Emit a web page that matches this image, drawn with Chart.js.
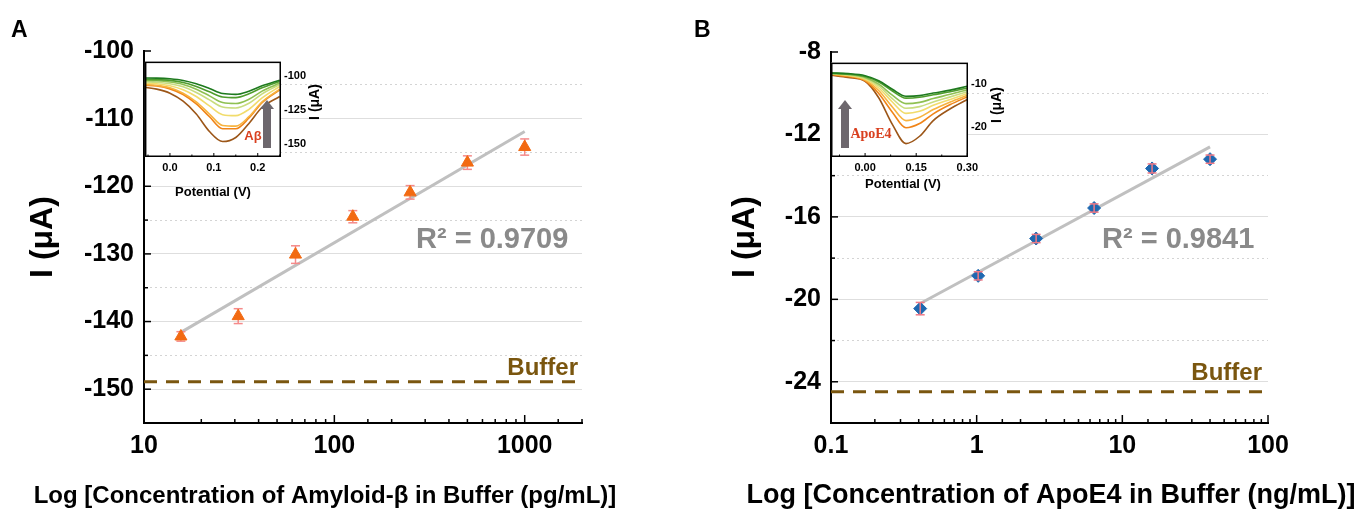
<!DOCTYPE html>
<html>
<head>
<meta charset="utf-8">
<script src="https://cdn.jsdelivr.net/npm/chart.js@4.4.0/dist/chart.umd.min.js"></script>
<style>
  html, body { margin: 0; padding: 0; background: #fff; }
  #wrap { position: relative; width: 1360px; height: 509px; overflow: hidden; }
  canvas { position: absolute; }
</style>
</head>
<body>
<div id="wrap">
  <canvas id="chartA" width="680" height="509" style="left:0;top:0"></canvas>
  <canvas id="chartB" width="680" height="509" style="left:680px;top:0"></canvas>
  <canvas id="insetA" width="185" height="150" style="left:144px;top:52px"></canvas>
  <canvas id="insetB" width="185" height="150" style="left:831px;top:53px"></canvas>
</div>
<script>
/*------------------------ DATA ---------------------------------*/

// panel A : amyloid-beta calibration
const concA = [15.625, 31.25, 62.5, 125, 250, 500, 1000]
const currentA = [-142.2, -139.2, -130.1, -124.5, -120.9, -116.5, -114.2]
const errA = [0.7, 1.1, 1.3, 0.9, 1.0, 1.0, 1.2]
const fitA = [-141.6, -111.9]
const bufferA = -148.9
const yTickLabelsA = [-150, -140, -130, -120, -110, -100]

// panel B : ApoE4 calibration
const concB = [0.4096, 1.024, 2.56, 6.4, 16, 40]
const currentB = [-20.45, -18.86, -17.05, -15.57, -13.65, -13.2]
const errB = [0.3, 0.2, 0.2, 0.2, 0.22, 0.2]
const fitB = [-20.2, -12.6]
const bufferB = -24.48
const yTickLabelsB = [-24, -20, -16, -12, -8]

// inset A : DPV curves, potential (V) vs current (uA)
const potentialA = [-0.06, -0.03, 0.0, 0.03, 0.06, 0.09, 0.12, 0.15, 0.18, 0.21, 0.25]
const dpvA = [
    [-101.2, -101.3, -101.8, -103.0, -105.5, -109.0, -112.8, -113.4, -111.0, -107.0, -102.8],
    [-102.2, -102.4, -103.0, -104.5, -107.5, -111.5, -115.3, -115.8, -113.0, -108.5, -103.8],
    [-103.0, -103.3, -104.2, -106.0, -109.5, -114.5, -119.5, -120.2, -117.0, -111.0, -105.0],
    [-104.0, -104.4, -105.5, -107.8, -112.0, -117.5, -122.8, -123.5, -120.0, -113.0, -106.0],
    [-105.0, -105.5, -107.0, -110.0, -115.0, -122.0, -128.5, -129.2, -124.5, -116.0, -107.5],
    [-106.0, -106.7, -108.5, -112.5, -119.0, -128.0, -136.5, -137.0, -130.0, -119.0, -109.5],
    [-106.5, -107.2, -109.3, -113.5, -120.5, -130.0, -139.0, -139.0, -131.0, -119.5, -110.0],
    [-108.0, -109.5, -112.5, -118.5, -128.0, -141.0, -148.5, -145.5, -135.0, -123.0, -115.0]
]
const insetXLabelsA = [0.0, 0.1, 0.2]
const insetYLabelsA = [-150, -125, -100]

// inset B
const potentialB = [-0.1, -0.05, 0.0, 0.04, 0.08, 0.12, 0.16, 0.2, 0.25, 0.3]
const dpvB = [
    [-7.35, -7.5, -8.0, -9.2, -11.2, -12.85, -12.7, -12.1, -11.4, -10.5],
    [-7.4, -7.6, -8.2, -9.5, -11.6, -13.3, -13.1, -12.5, -11.8, -10.9],
    [-7.45, -7.7, -8.4, -10.0, -12.6, -14.6, -14.3, -13.4, -12.4, -11.3],
    [-7.5, -7.8, -8.6, -10.4, -13.4, -15.7, -15.3, -14.2, -13.0, -11.8],
    [-7.55, -7.9, -8.8, -10.9, -14.2, -16.9, -16.4, -15.0, -13.6, -12.2],
    [-7.6, -8.0, -9.0, -11.5, -15.4, -18.6, -17.8, -16.0, -14.2, -12.6],
    [-7.7, -8.2, -9.2, -12.2, -16.6, -20.3, -19.3, -17.0, -14.8, -13.0],
    [-7.86, -8.4, -9.3, -13.2, -19.5, -24.05, -22.3, -18.6, -15.8, -13.6]
]
const insetXLabelsB = [0.0, 0.15, 0.3]
const insetYLabelsB = [-20, -10]

const curveColors = ['#1e7a1e', '#4f9d2d', '#8fc052', '#c9dc7e', '#f1dc6c', '#f7b33f', '#f08418', '#9c5618']

/*------------------------ HELPERS ---------------------------------*/

const FONT = "'Liberation Sans', Arial, Helvetica, sans-serif"
const BROWN = '#7a560f'

const isDecade = v => {
    const l = Math.log10(v)
    return Math.abs(l - Math.round(l)) < 1e-9
}

function line(ctx, x1, y1, x2, y2) {
    ctx.beginPath(); ctx.moveTo(x1, y1); ctx.lineTo(x2, y2); ctx.stroke()
}

function drawErrorBars(chart, cfg) {
    const {ctx, scales: {x, y}} = chart
    ctx.save()
    ctx.strokeStyle = cfg.errColor
    ctx.lineWidth = 1.5
    cfg.xs.forEach((v, i) => {
        const px = x.getPixelForValue(v)
        const top = y.getPixelForValue(cfg.ys[i] + cfg.err[i])
        const bot = y.getPixelForValue(cfg.ys[i] - cfg.err[i])
        line(ctx, px, top, px, bot)
        line(ctx, px - 4.5, top, px + 4.5, top)
        line(ctx, px - 4.5, bot, px + 4.5, bot)
    })
    ctx.restore()
}

// labels, inner ticks, error bars for the main panels
function panelExtras(cfg) {
    return {
        id: 'panelExtras',
        beforeDatasetDraw(chart, args) {
            if (args.index === 0 && cfg.errUnder) drawErrorBars(chart, cfg)
        },
        afterDatasetDraw(chart, args) {
            if (args.index === 0 && !cfg.errUnder) drawErrorBars(chart, cfg)
        },
        afterDraw(chart) {
            const {ctx, chartArea: a, scales: {x, y}} = chart
            ctx.save()
            ctx.strokeStyle = '#000'
            ctx.lineWidth = 1.5
            x.ticks.forEach(t => {
                const px = x.getPixelForValue(t.value)
                line(ctx, px, a.bottom, px, a.bottom - (isDecade(t.value) ? 8 : 4))
            })
            y.ticks.forEach(t => {
                const py = y.getPixelForValue(t.value)
                line(ctx, a.left, py, a.left + (t.lab ? 7 : 4), py)
            })

            ctx.fillStyle = '#000'
            ctx.textBaseline = 'alphabetic'
            ctx.textAlign = 'left'
            ctx.font = 'bold 23px ' + FONT
            ctx.fillText(cfg.letter, cfg.letterX, 37)

            ctx.textAlign = 'center'
            ctx.font = 'bold ' + cfg.xTitleSize + 'px ' + FONT
            ctx.fillText(cfg.xTitle, cfg.xTitleX, 503)

            ctx.save()
            ctx.translate(cfg.yTitleX, 237)
            ctx.rotate(-Math.PI / 2)
            ctx.font = 'bold 32px ' + FONT
            ctx.textBaseline = 'middle'
            ctx.fillText('I (μA)', 0, 0)
            ctx.restore()

            ctx.textAlign = 'left'
            ctx.fillStyle = '#8a8a8a'
            ctx.font = 'bold 29px ' + FONT
            ctx.fillText(cfg.r2, cfg.r2X, 248)

            ctx.textAlign = 'right'
            ctx.fillStyle = BROWN
            ctx.font = 'bold 24px ' + FONT
            ctx.fillText('Buffer', cfg.bufferX, cfg.bufferY)
            ctx.restore()
        }
    }
}

function mainChart(id, cfg) {
    const last = cfg.xs.length - 1
    const labelled = v => cfg.yLabels.includes(v)
    return new Chart(document.getElementById(id).getContext('2d'), {
        type: 'scatter',
        data: {
            datasets: [{
                data: cfg.xs.map((v, i) => ({x: v, y: cfg.ys[i]})),
                pointStyle: cfg.pointStyle,
                pointRadius: cfg.radius,
                pointHoverRadius: cfg.radius,
                backgroundColor: cfg.color,
                borderColor: cfg.color,
                borderWidth: 1,
                order: 0
            }, {
                data: [{x: cfg.xs[0], y: cfg.fit[0]}, {x: cfg.xs[last], y: cfg.fit[1]}],
                showLine: true,
                borderColor: '#c0c0c0',
                borderWidth: 3,
                pointRadius: 0,
                order: 1
            }, {
                data: [{x: cfg.xMin, y: cfg.buffer}, {x: cfg.xMax, y: cfg.buffer}],
                showLine: true,
                borderColor: BROWN,
                borderWidth: 3,
                borderDash: [13, 9],
                pointRadius: 0,
                order: 2
            }]
        },
        options: {
            responsive: false,
            animation: false,
            events: [],
            layout: {padding: {left: 0, right: cfg.padRight, top: cfg.padTop, bottom: 0}},
            plugins: {legend: {display: false}, tooltip: {enabled: false}},
            scales: {
                x: {
                    type: 'logarithmic',
                    min: cfg.xMin,
                    max: cfg.xMax,
                    afterFit: s => { s.height = 86 },
                    grid: {display: false, drawTicks: false},
                    border: {display: true, color: '#000', width: 2},
                    ticks: {
                        autoSkip: false, maxRotation: 0, padding: 8, color: '#000',
                        font: {family: FONT, size: 25, weight: 'bold'},
                        callback: v => isDecade(v) ? String(v) : ''
                    }
                },
                y: {
                    min: cfg.yMin,
                    max: cfg.yMax,
                    afterFit: s => { s.width = cfg.yWidth },
                    afterBuildTicks: s => {
                        const t = []
                        for (let v = cfg.yMin; v <= cfg.yMax; v += cfg.yMinor) t.push({value: v, lab: labelled(v)})
                        s.ticks = t
                    },
                    grid: {
                        drawTicks: false,
                        lineWidth: 1,
                        color: c => {
                            if (!c.tick || c.tick.value === cfg.yMin || c.tick.value === cfg.yMax) return 'rgba(0,0,0,0)'
                            return labelled(c.tick.value) ? '#dedede' : '#d4d4d4'
                        }
                    },
                    border: {
                        display: true, color: '#000', width: 2,
                        dash: c => (c.tick && !labelled(c.tick.value)) ? [2, 3] : []
                    },
                    ticks: {
                        autoSkip: false, padding: 10, color: '#000',
                        font: {family: FONT, size: 25, weight: 'bold'},
                        callback: (v, i, ticks) => ticks[i].lab ? String(v) : ''
                    }
                }
            }
        },
        plugins: [panelExtras(cfg)]
    })
}

/*------------------------ INSETS ---------------------------------*/

function insetExtras(cfg) {
    return {
        id: 'insetExtras',
        beforeDraw(chart) {
            const {ctx, chartArea: a} = chart
            ctx.save()
            ctx.fillStyle = '#fff'
            ctx.fillRect(a.left, a.top, a.right - a.left, a.bottom - a.top)
            ctx.restore()
        },
        afterDraw(chart) {
            const {ctx, chartArea: a, scales: {x}} = chart
            ctx.save()
            ctx.strokeStyle = '#000'
            ctx.lineWidth = 1.5
            ctx.strokeRect(a.left + 0.75, a.top + 0.75, a.right - a.left - 1.5, a.bottom - a.top - 1.5)
            ctx.lineWidth = 1
            x.ticks.forEach(t => {
                const px = x.getPixelForValue(t.value)
                line(ctx, px, a.bottom, px, a.bottom - (t.lab ? 4 : 2.5))
            })

            // arrow
            ctx.fillStyle = '#6d676d'
            const ax = cfg.arrowX
            ctx.fillRect(ax - 4, cfg.arrowTip + 8, 8, cfg.arrowEnd - cfg.arrowTip - 8)
            ctx.beginPath()
            ctx.moveTo(ax, cfg.arrowTip)
            ctx.lineTo(ax - 7, cfg.arrowTip + 9)
            ctx.lineTo(ax + 7, cfg.arrowTip + 9)
            ctx.closePath()
            ctx.fill()

            ctx.fillStyle = '#d9401f'
            ctx.font = cfg.tagFont
            ctx.textAlign = 'center'
            ctx.fillText(cfg.tag, cfg.tagX, cfg.tagY)

            ctx.fillStyle = '#000'
            ctx.font = 'bold 13px ' + FONT
            ctx.fillText('Potential (V)', cfg.potX, cfg.potY)

            ctx.save()
            ctx.translate(cfg.iTitleX, cfg.iTitleY)
            ctx.rotate(-Math.PI / 2)
            ctx.textBaseline = 'middle'
            ctx.font = 'bold 14px ' + FONT
            ctx.fillText('I (μA)', 0, 0)
            ctx.restore()
            ctx.restore()
        }
    }
}

function insetChart(id, cfg) {
    const xLab = v => cfg.xLabels.some(l => Math.abs(l - v) < 1e-9)
    return new Chart(document.getElementById(id).getContext('2d'), {
        type: 'scatter',
        data: {
            datasets: cfg.curves.map((c, i) => ({
                data: cfg.potential.map((p, j) => ({x: p, y: c[j]})),
                showLine: true,
                borderColor: curveColors[i],
                borderWidth: 1.6,
                pointRadius: 0,
                cubicInterpolationMode: 'monotone'
            }))
        },
        options: {
            responsive: false,
            animation: false,
            events: [],
            layout: {padding: 0},
            plugins: {legend: {display: false}, tooltip: {enabled: false}},
            scales: {
                x: {
                    min: cfg.xMin, max: cfg.xMax,
                    afterFit: s => { s.height = cfg.xHeight },
                    afterBuildTicks: s => {
                        const t = []
                        const l = cfg.xLabels
                        const step = (l[1] - l[0]) / 2
                        for (let v = l[0] - step; v <= cfg.xMax + 1e-9; v += step) {
                            if (v >= cfg.xMin) t.push({value: v, lab: xLab(v)})
                        }
                        s.ticks = t
                    },
                    grid: {display: false, drawTicks: false},
                    border: {display: false},
                    ticks: {
                        autoSkip: false, maxRotation: 0, padding: 4, color: '#000',
                        font: {family: FONT, size: 11, weight: 'bold'},
                        callback: (v, i, ticks) => ticks[i].lab ? v.toFixed(cfg.xDigits) : ''
                    }
                },
                y: {
                    position: 'right',
                    min: cfg.yMin, max: cfg.yMax,
                    afterFit: s => { s.width = 48 },
                    afterBuildTicks: s => { s.ticks = cfg.yLabels.map(v => ({value: v})) },
                    grid: {display: false, drawTicks: false},
                    border: {display: false},
                    ticks: {
                        autoSkip: false, padding: 3, color: '#000',
                        font: {family: FONT, size: 11, weight: 'bold'},
                        callback: v => String(v)
                    }
                }
            }
        },
        plugins: [insetExtras(cfg)]
    })
}

/*------------------------ BUILD ---------------------------------*/

const chartA = mainChart('chartA', {
    xs: concA, ys: currentA, err: errA, fit: fitA, buffer: bufferA, yLabels: yTickLabelsA,
    xMin: 10, xMax: 2000, yMin: -155, yMax: -100, yMinor: 5,
    padRight: 98, padTop: 51, yWidth: 144,
    pointStyle: 'triangle', radius: 7, color: '#f26a12',
    errColor: '#f58a8a', errUnder: true,
    letter: 'A', letterX: 11, xTitle: 'Log [Concentration of Amyloid-β in Buffer (pg/mL)]', xTitleX: 325, xTitleSize: 24,
    yTitleX: 43, r2: 'R² = 0.9709', r2X: 416, bufferX: 578, bufferY: 375
})

const chartB = mainChart('chartB', {
    xs: concB, ys: currentB, err: errB, fit: fitB, buffer: bufferB, yLabels: yTickLabelsB,
    xMin: 0.1, xMax: 100, yMin: -26, yMax: -8, yMinor: 2,
    padRight: 92, padTop: 52, yWidth: 151,
    pointStyle: 'rectRot', radius: 6.5, color: '#1f68b0',
    errColor: '#f07a86', errUnder: false,
    letter: 'B', letterX: 14, xTitle: 'Log [Concentration of ApoE4 in Buffer (ng/mL)]', xTitleX: 371, xTitleSize: 27,
    yTitleX: 65, r2: 'R² = 0.9841', r2X: 422, bufferX: 582, bufferY: 380
})

const insetA = insetChart('insetA', {
    potential: potentialA, curves: dpvA, xLabels: insetXLabelsA, yLabels: insetYLabelsA,
    xMin: -0.057, xMax: 0.253, yMin: -160, yMax: -89, xDigits: 1, xHeight: 45,
    arrowX: 123, arrowTip: 48, arrowEnd: 96,
    tag: 'Aβ', tagFont: 'bold 13px ' + FONT, tagX: 109, tagY: 88,
    potX: 69, potY: 144, iTitleX: 171, iTitleY: 50
})

const insetB = insetChart('insetB', {
    potential: potentialB, curves: dpvB, xLabels: insetXLabelsB, yLabels: insetYLabelsB,
    xMin: -0.1, xMax: 0.302, yMin: -27.2, yMax: -4.9, xDigits: 2, xHeight: 46,
    arrowX: 14, arrowTip: 47, arrowEnd: 95,
    tag: 'ApoE4', tagFont: "bold 14px 'Liberation Serif', 'Times New Roman', serif", tagX: 40, tagY: 85,
    potX: 72, potY: 135, iTitleX: 166, iTitleY: 52
})
</script>
</body>
</html>
